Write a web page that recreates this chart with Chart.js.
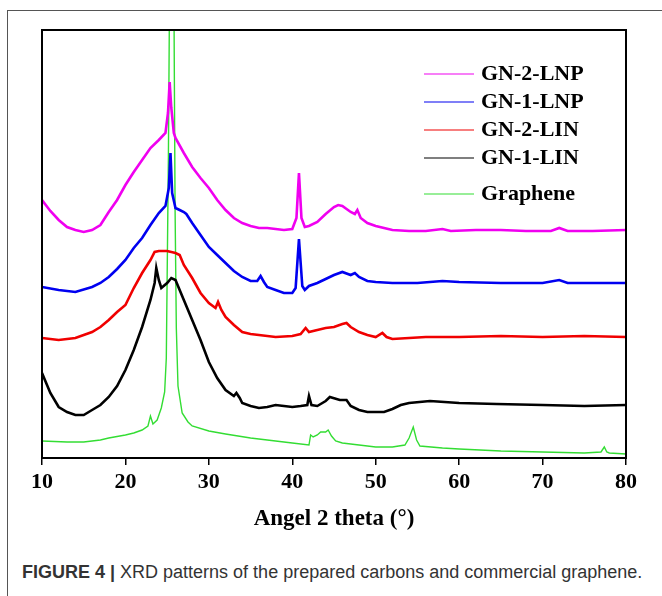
<!DOCTYPE html>
<html>
<head>
<meta charset="utf-8">
<script src="https://cdn.jsdelivr.net/npm/chart.js@4.4.1/dist/chart.umd.min.js"></script>
<style>
  body { margin: 0; background: #fff; width: 662px; height: 596px; overflow: hidden; position: relative; }
  #frame { position: absolute; left: 7px; top: 10px; width: 720px; height: 720px; border: 1px solid #555; }
  #chart { position: absolute; left: 0; top: 0; }
  #caption { position: absolute; left: 22px; top: 562px; font: 18px/21px "Liberation Sans", Arial, sans-serif; color: #333; white-space: nowrap; }
</style>
</head>
<body>
<div id="frame"></div>
<canvas id="chart" width="662" height="545"></canvas>
<div id="caption"><b>FIGURE 4 |</b> XRD patterns of the prepared carbons and commercial graphene.</div>
<script>
// 2 theta (deg) / intensity (a.u., offset stacked)
const gn2lnpAngle = [10, 11, 12, 13, 14, 15, 16, 17, 18, 19, 20, 21, 22, 23, 24, 24.8, 25.1, 25.3, 25.5, 25.8, 26, 27, 28, 29, 30, 31, 32, 33, 34, 35, 36, 37, 38, 39, 40, 40.5, 40.8, 41.1, 41.5, 42, 43, 44, 45, 45.5, 46, 47, 47.5, 47.8, 48.2, 49, 50, 51, 52, 54, 56, 58, 59, 62, 65, 68, 71, 72, 73, 76, 80];
const gn2lnpValue = [258, 247, 238, 231, 228, 226, 228, 233, 246, 258, 273, 286, 298, 310, 318, 325, 345, 376, 350, 325, 320, 305, 291, 280, 270, 258, 248, 240, 235, 232, 230, 230, 229, 228, 229, 240, 285, 240, 231, 232, 236, 244, 251, 253, 252, 246, 244, 248, 240, 235, 232, 230, 228, 227, 227, 229, 227, 228, 228, 227, 227, 230, 227, 227, 228];

const gn1lnpAngle = [10, 12, 14, 16, 17, 18, 19, 20, 21, 22, 23, 24, 24.8, 25.2, 25.4, 25.6, 26, 26.5, 27, 27.3, 28, 29, 30, 31, 32, 33, 34, 35, 35.8, 36.2, 36.6, 37, 38, 39, 40, 40.4, 40.8, 41.2, 41.5, 42, 43, 44, 45, 46, 47, 47.5, 48, 49, 50, 52, 55, 58, 60, 65, 70, 72, 73, 80];
const gn1lnpValue = [171, 168, 166, 171, 175, 181, 189, 198, 210, 220, 233, 245, 252, 270, 305, 265, 250, 248, 246, 244, 235, 223, 211, 203, 195, 187, 181, 177, 177, 182, 176, 171, 168, 165, 165, 170, 219, 172, 168, 172, 175, 179, 183, 186, 183, 185, 181, 177, 176, 175, 175, 177, 176, 175, 175, 178, 175, 175];

const gn2linAngle = [10, 12, 14, 16, 17, 18, 19, 20, 21, 22, 23, 23.5, 24, 25, 26, 26.5, 27, 28, 29, 30, 30.8, 31.1, 31.5, 32, 33, 34, 35, 36, 38, 40, 41, 41.6, 42, 43, 44, 45, 46, 46.5, 47, 48, 49, 50, 50.8, 51.3, 52, 54, 56, 60, 65, 70, 75, 80];
const gn2linValue = [120, 118, 120, 126, 131, 138, 146, 153, 170, 185, 198, 206, 207, 207, 205, 203, 193, 180, 165, 155, 150, 156, 148, 141, 133, 126, 124, 123, 121, 122, 124, 130, 126, 128, 130, 131, 134, 135, 131, 126, 123, 121, 125, 121, 119, 120, 121, 121, 122, 121, 122, 121];

const gn1linAngle = [10, 10.5, 11, 12, 13, 14, 15, 16, 17, 18, 19, 20, 21, 22, 23, 23.5, 23.7, 24, 24.3, 25, 25.5, 26, 27, 28, 29, 30, 31, 32, 33, 33.3, 33.7, 34, 35, 36, 37, 38, 39, 40, 41, 41.8, 42, 42.3, 43, 44, 44.5, 45.7, 46.5, 47, 48, 49, 50, 51, 52, 53, 54, 56.5, 60, 64.5, 70, 75, 80];
const gn1linValue = [85, 75, 65, 51, 46, 43, 43, 48, 53, 61, 72, 88, 108, 131, 158, 175, 190, 178, 170, 175, 180, 178, 158, 138, 118, 96, 80, 68, 62, 65, 60, 55, 52, 50, 51, 53, 52, 51, 52, 53, 62, 53, 52, 57, 61, 58, 58, 52, 48, 46, 46, 46, 49, 53, 55, 57, 55, 54, 53, 52, 53];

const grapheneAngle = [10, 13, 15, 17, 18, 20, 21, 22, 22.7, 23, 23.3, 23.8, 24.3, 24.7, 24.9, 25.15, 25.3, 25.55, 25.8, 25.95, 26.1, 26.3, 26.8, 27.5, 28, 30, 32, 35, 38, 40, 42, 42.2, 42.5, 43, 43.4, 44, 44.3, 44.7, 45.2, 46, 48, 50, 52, 53.5, 54, 54.5, 54.9, 55.3, 58, 60, 65, 70, 75, 77, 77.4, 77.7, 78, 80];
const grapheneValue = [17, 16, 16, 18, 20, 23, 25, 28, 32, 42, 34, 38, 50, 66, 100, 300, 480, 560, 480, 250, 130, 72, 45, 36, 32, 27, 24, 20, 17, 15, 13, 23, 21, 23, 26, 26, 28, 22, 17, 15, 13, 11, 11, 13, 20, 31, 18, 12, 10, 9, 7, 6, 5, 6, 11, 6, 5, 4];

const xTicks = [10, 20, 30, 40, 50, 60, 70, 80];

const toPoints = (xs, ys) => xs.map((x, i) => ({x: x, y: ys[i]}));

const series = [
    {label: 'GN-2-LNP', color: '#f000f0', pts: toPoints(gn2lnpAngle, gn2lnpValue), w: 2.6},
    {label: 'GN-1-LNP', color: '#0000f0', pts: toPoints(gn1lnpAngle, gn1lnpValue), w: 2.6},
    {label: 'GN-2-LIN', color: '#f00000', pts: toPoints(gn2linAngle, gn2linValue), w: 2.6},
    {label: 'GN-1-LIN', color: '#000000', pts: toPoints(gn1linAngle, gn1linValue), w: 2.6},
    {label: 'Graphene', color: '#33dd33', pts: toPoints(grapheneAngle, grapheneValue), w: 1.4}
];

const frameAndLegend = {
    id: 'frameAndLegend',
    afterDraw: chart => {
        const {ctx, chartArea} = chart;
        ctx.save();
        ctx.strokeStyle = '#000';
        ctx.lineWidth = 2;
        ctx.strokeRect(chartArea.left, chartArea.top, chartArea.right - chartArea.left, chartArea.bottom - chartArea.top);

        // legend, thin lines + bold serif labels
        const rows = [74, 102, 130, 158, 194];
        ctx.font = 'bold 22px "Liberation Serif", "Times New Roman", serif';
        ctx.textBaseline = 'middle';
        ctx.fillStyle = '#000';
        chart.data.datasets.forEach((ds, i) => {
            const y = rows[i];
            ctx.strokeStyle = ds.borderColor;
            ctx.lineWidth = 1.2;
            ctx.beginPath();
            ctx.moveTo(424, y);
            ctx.lineTo(474, y);
            ctx.stroke();
            ctx.fillText(ds.label, 481, y);
        });
        ctx.restore();
    }
};

new Chart(document.getElementById('chart'), {
    type: 'line',
    data: {
        datasets: series.map(s => ({
            label: s.label,
            data: s.pts,
            borderColor: s.color,
            borderWidth: s.w,
            pointRadius: 0,
            tension: 0,
            fill: false
        }))
    },
    options: {
        responsive: false,
        animation: false,
        layout: {padding: {left: 42, right: 36, top: 30, bottom: 0}},
        plugins: {legend: {display: false}, tooltip: {enabled: false}},
        scales: {
            x: {
                type: 'linear',
                min: 10,
                max: 80,
                afterBuildTicks: scale => { scale.ticks = xTicks.map(v => ({value: v})); },
                afterFit: scale => { scale.height = 87; },
                ticks: {
                    color: '#000',
                    padding: 4,
                    font: {family: '"Liberation Serif", "Times New Roman", serif', size: 22, weight: 'bold'}
                },
                grid: {drawOnChartArea: false, drawTicks: true, tickLength: 7, color: '#000', lineWidth: 1.5},
                border: {display: true, color: '#000', width: 2},
                title: {
                    display: true,
                    text: 'Angel 2 theta (°)',
                    color: '#000',
                    padding: {top: 0, bottom: 12},
                    font: {family: '"Liberation Serif", "Times New Roman", serif', size: 23, weight: 'bold'}
                }
            },
            y: {
                display: false,
                min: 0,
                max: 428
            }
        }
    },
    plugins: [frameAndLegend]
});
</script>
</body>
</html>
